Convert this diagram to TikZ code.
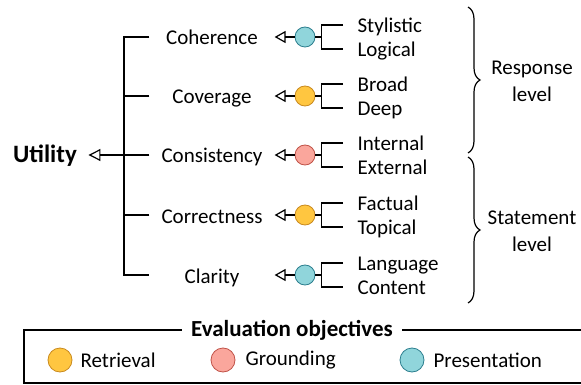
\documentclass[tikz,border=0pt]{standalone}
\usepackage{fontspec}
\setmainfont{Carlito}
\usepackage{tikz}
\usetikzlibrary{arrows.meta, calc, decorations.pathreplacing}
\definecolor{RetFill}{RGB}{255,198,64}
\definecolor{RetDraw}{RGB}{201,138,30}
\definecolor{GrdFill}{RGB}{250,166,156}
\definecolor{GrdDraw}{RGB}{192,82,72}
\definecolor{PreFill}{RGB}{144,213,219}
\definecolor{PreDraw}{RGB}{44,126,142}
\def\lw{1.2}
\newcommand{\CriterionRow}[6]{
	\def\ly{#2}
	\node[crit] (#1) at (212,\ly) {#3};
	\node[obj=#4] (#1c) at (305,\ly) {};
	\node[sub] (#1a) at (357,\ly-12) {#5};
	\node[sub] (#1b) at (357,\ly+12) {#6};

	\draw[-{Triangle[open, length=11pt, width=12pt]}] (#1c) -- (#1);
	\draw (#1c.east) -- ++(6,0) coordinate (#1k);
	\draw ($(#1a.west)+(-14,0)$) -| (#1k) |- ($(#1b.west)+(-14,0)$);
}

\begin{document}
\begin{tikzpicture}[x=1pt, y=-1pt, line width=\lw pt,
		font=\fontsize{21}{27}\selectfont,
		crit/.style={minimum width=124pt, inner sep=0pt, text height=16pt, text depth=0pt},
		sub/.style={anchor=west, inner sep=0pt, text height=15pt, text depth=0pt},
		obj/.style={circle, draw=#1Draw, fill=#1Fill, line width=0.8pt, minimum size=20pt, inner sep=0pt},
		legobj/.style={obj=#1, minimum size=24pt},
		legtext/.style={anchor=base west, inner sep=0pt},
		levelbrace/.style={decorate, decoration={brace, amplitude=12pt}}
	]
	\useasboundingbox (0,0) rectangle (581,385);

	\CriterionRow{coh}{37}{Coherence}{Pre}{Stylistic}{Logical}
	\CriterionRow{cov}{96}{Coverage}{Ret}{Broad}{Deep}
	\CriterionRow{con}{155}{Consistency}{Grd}{Internal}{External}
	\CriterionRow{cor}{215}{Correctness}{Ret}{Factual}{Topical}
	\CriterionRow{cla}{275}{Clarity}{Pre}{Language}{Content}

	\node[font=\bfseries\fontsize{25}{30}\selectfont, inner xsep=11pt, inner ysep=0pt, text height=16pt, text depth=0pt] (util) at (45,155) {Utility};

	\coordinate (trunk) at (124,0);
	\draw (coh.west) -| (trunk |- cla.west) -- (cla.west);
	\foreach \n in {cov, cor}
		\draw (\n.west) -- (\n.west -| trunk);
	\draw[-{Triangle[open, length=12pt, width=12pt]}] (con.west) -- (util.east);

	% levels
	\draw[levelbrace] (468,7) -- (468,153);
	\draw[levelbrace] (468,157) -- (468,303);
	\node[align=center] (resp) at (532,81) {Response\\level};
	\node[align=center] (stmt) at (532,231) {Statement\\level};

	% legend
	\node[font=\bfseries\fontsize{23}{27}\selectfont, inner xsep=9pt] (legtitle) at (292,330) {Evaluation objectives};
	\coordinate (boxnw) at (24,330);
	\coordinate (boxsw) at (24,383);
	\coordinate (boxse) at (581,383);
	\coordinate (boxne) at (581,330);
	\draw (legtitle.west) -- (boxnw) -- (boxsw) -- (boxse);
	\draw (legtitle.east) -- (boxne);

	\node[legobj=Ret] (lret) at (60,360) {};
	\node[legtext] (lretT) at (80,367) {Retrieval};
	\node[legobj=Grd] (lgrd) at (223,360) {};
	\node[legtext] (lgrdT) at (245,365) {Grounding};
	\node[legobj=Pre] (lpre) at (412,360) {};
	\node[legtext] (lpreT) at (433,367) {Presentation};
\end{tikzpicture}
\end{document}
